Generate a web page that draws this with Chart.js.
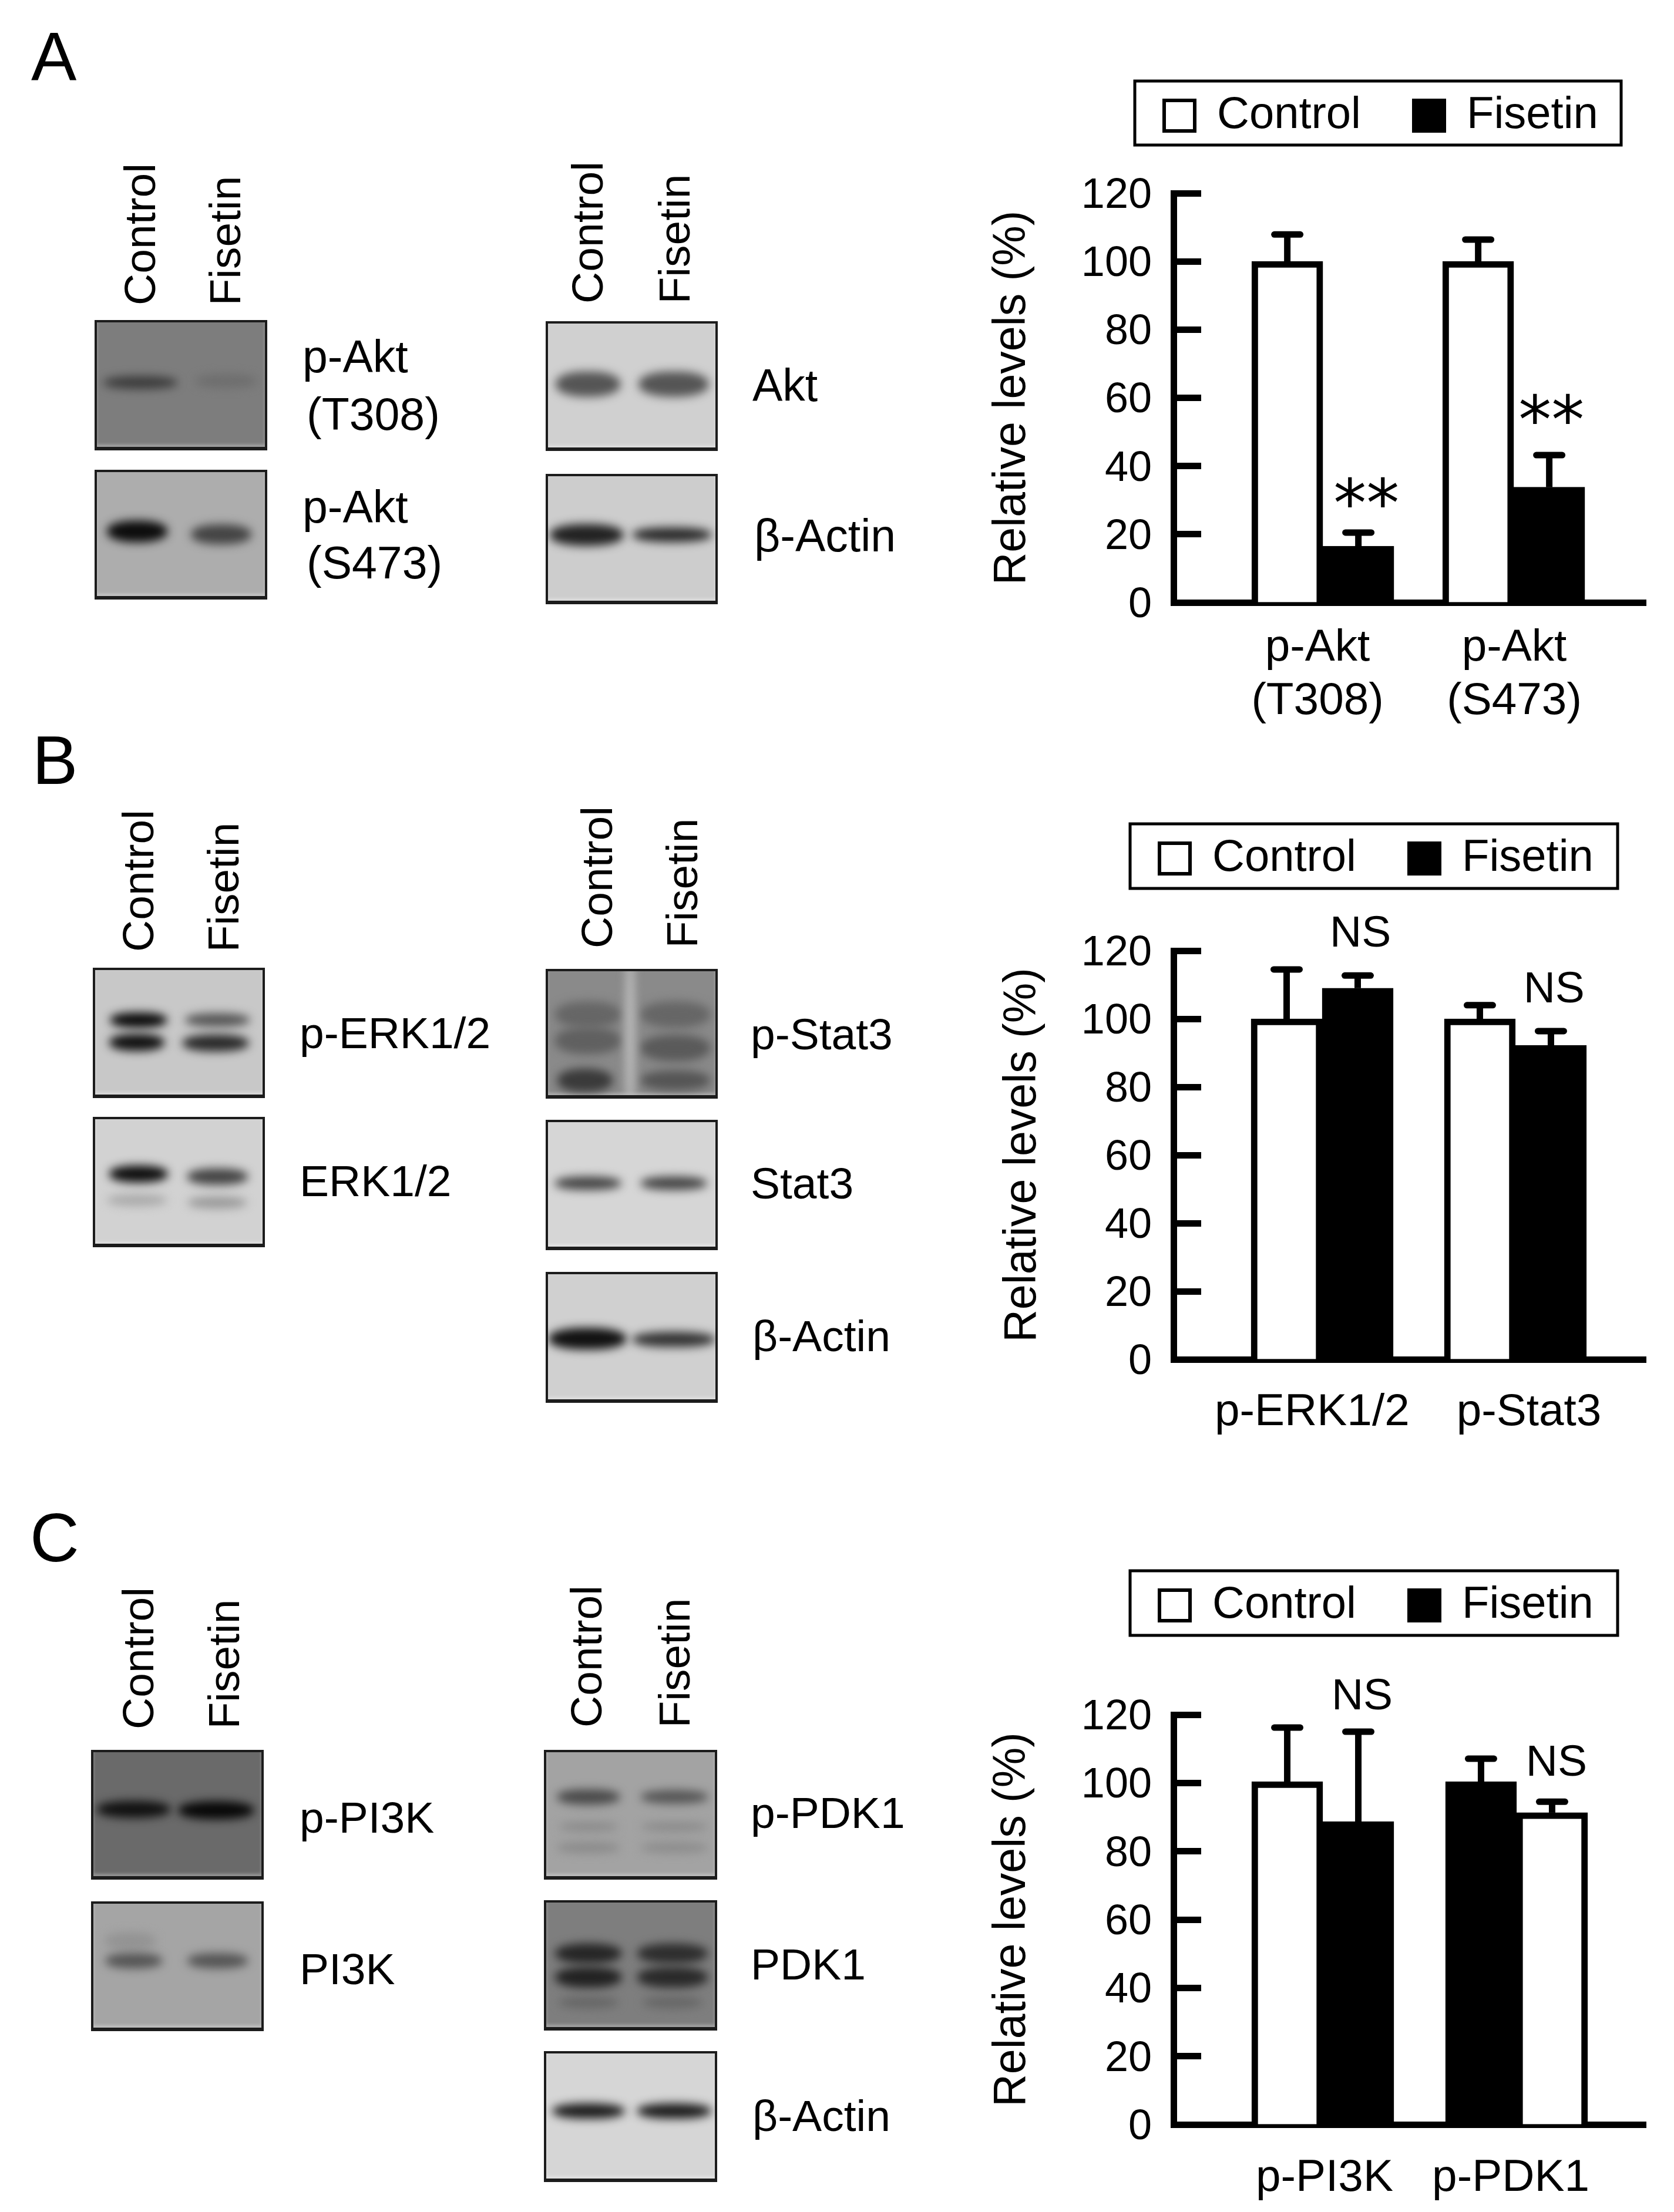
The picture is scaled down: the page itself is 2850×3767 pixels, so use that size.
<!DOCTYPE html>
<html>
<head>
<meta charset="utf-8">
<title>Fisetin blots and relative levels</title>
<script src="https://cdn.jsdelivr.net/npm/chart.js@4/dist/chart.umd.min.js"></script>
<style>
    html, body { margin: 0; padding: 0; background: #fff; }
    #page { position: relative; width: 2850px; height: 3767px; overflow: hidden; background: #fff; }
    #page canvas { position: absolute; left: 1650px; }
    .txt { position: absolute; font-family: "Liberation Sans", Arial, sans-serif; color: #000; line-height: 1; white-space: nowrap; transform: translateY(-50%); }
    .rot { transform: translate(-50%, -50%) rotate(-90deg); }
    .gel { position: absolute; overflow: hidden; box-sizing: border-box; border: 4px solid #1c1c1c; border-bottom-width: 6px; box-shadow: inset 0 -4px 5px rgba(255,255,255,.3); }
    .band { position: absolute; border-radius: 45%; filter: blur(8px); transform: translate(-50%, -50%); }
</style>
</head>
<body>
<div id="page">
    <canvas id="chartA" width="1200" height="1150" style="top:100px"></canvas>
    <canvas id="chartB" width="1200" height="1150" style="top:1380px"></canvas>
    <canvas id="chartC" width="1200" height="1127" style="top:2640px"></canvas>
</div>
<script>
/*---------------------------------------------------
  Data
---------------------------------------------------*/
var seriesNames = ["Control", "Fisetin"];
var yTickValues = [0, 20, 40, 60, 80, 100, 120];
var yTitle = "Relative levels (%)";

var aCategories = [["p-Akt", "(T308)"], ["p-Akt", "(S473)"]];
var aControl = [100, 100];
var aFisetin = [16.5, 33.8];
var aControlTop = [107.9, 106.4];
var aFisetinTop = [20.5, 43.2];
var aNotes = ["**", "**"];
var aNoteLevels = [31.7, 56.1];

var bCategories = ["p-ERK1/2", "p-Stat3"];
var bControl = [100, 100];
var bFisetin = [109, 92.2];
var bControlTop = [114.5, 104];
var bFisetinTop = [112.7, 96.4];
var bNotes = ["NS", "NS"];
var bNoteLevels = [125.5, 109.1];

var cCategories = ["p-PI3K", "p-PDK1"];
var cControl = [100.4, 100.4];
var cFisetin = [88.7, 91.3];
var cControlTop = [116.2, 107.1];
var cFisetinTop = [115, 94.5];
var cNotes = ["NS", "NS"];
var cNoteLevels = [125.8, 106.3];

/*---------------------------------------------------
  Chart defaults
---------------------------------------------------*/
var WHITE = "#ffffff";
var BLACK = "#000000";
var FONT = "'Liberation Sans', Arial, sans-serif";
var LEGEND_FONT = 76;
var LEGEND_PAD = 90;

Chart.defaults.font.family = FONT;
Chart.defaults.color = BLACK;
Chart.defaults.animation = false;

/*---------------------------------------------------
  Error bars, notes, legend frame
---------------------------------------------------*/
function panelPlugin(p) {
    return {
        id: "panelMarks",
        afterLayout: function (chart) {
            // the legend sits in its own frame, away from the plot
            var legend = chart.legend;
            legend.left = p.legendX - LEGEND_PAD;
            legend.right = chart.width + LEGEND_PAD;
            legend.top = p.legendY - LEGEND_FONT / 2 - LEGEND_PAD;
        },
        afterDatasetsDraw: function (chart) {
            var ctx = chart.ctx;
            var y = chart.scales.y;
            ctx.save();
            ctx.strokeStyle = BLACK;
            ctx.lineWidth = 11;
            [p.controlTop, p.fisetinTop].forEach(function (tops, i) {
                chart.getDatasetMeta(i).data.forEach(function (bar, j) {
                    var top = y.getPixelForValue(tops[j]);
                    ctx.lineCap = "butt";
                    ctx.beginPath();
                    ctx.moveTo(bar.x, bar.y);
                    ctx.lineTo(bar.x, top);
                    ctx.stroke();
                    ctx.lineCap = "round";
                    ctx.beginPath();
                    ctx.moveTo(bar.x - 22, top);
                    ctx.lineTo(bar.x + 22, top);
                    ctx.stroke();
                });
            });
            ctx.restore();
        },
        afterDraw: function (chart) {
            var ctx = chart.ctx;
            ctx.save();
            ctx.strokeStyle = BLACK;
            ctx.lineWidth = 5;
            ctx.strokeRect(p.frame[0], p.frame[1], p.frame[2], p.frame[3]);
            ctx.fillStyle = BLACK;
            ctx.textAlign = "center";
            ctx.textBaseline = "middle";
            p.notes.forEach(function (note, i) {
                var stars = note.indexOf("*") >= 0;
                ctx.font = (stars ? "112px 'DejaVu Sans'" : "75px " + FONT);
                var px = chart.scales.x.getPixelForValue(p.noteX[i]);
                var py = chart.scales.y.getPixelForValue(p.noteLevels[i]);
                ctx.fillText(note, px, py + (stars ? 25 : 4));
            });
            ctx.restore();
        }
    };
}

/*---------------------------------------------------
  One bar panel
---------------------------------------------------*/
function barPanel(id, p) {
    return new Chart(document.getElementById(id), {
        type: "bar",
        data: {
            datasets: [{
                label: seriesNames[0],
                data: p.control.map(function (v, i) { return { x: i + 1, y: v }; }),
                backgroundColor: p.controlFill,
                borderColor: BLACK,
                borderWidth: 11,
                barThickness: 121
            }, {
                label: seriesNames[1],
                data: p.fisetin.map(function (v, i) { return { x: i + 1, y: v }; }),
                backgroundColor: p.fisetinFill,
                borderColor: BLACK,
                borderWidth: 11,
                barThickness: 121
            }]
        },
        options: {
            responsive: false,
            layout: { padding: { top: p.plotTop - (LEGEND_FONT + LEGEND_PAD + 10), right: 48, bottom: 0, left: 0 } },
            plugins: {
                tooltip: { enabled: false },
                legend: {
                    position: "top",
                    align: "start",
                    labels: {
                        boxWidth: 52,
                        boxHeight: 52,
                        padding: LEGEND_PAD,
                        font: { size: LEGEND_FONT },
                        generateLabels: function (chart) {
                            var items = Chart.defaults.plugins.legend.labels.generateLabels(chart);
                            items.forEach(function (item) { item.lineWidth = 6; });
                            return items;
                        }
                    }
                }
            },
            scales: {
                x: {
                    type: "linear",
                    offset: false,
                    min: p.xRange[0],
                    max: p.xRange[1],
                    grid: { display: false, drawTicks: false, offset: false },
                    border: { width: 11, color: BLACK },
                    afterFit: function (scale) { scale.height = p.axisHeight; },
                    afterBuildTicks: function (scale) {
                        scale.ticks = p.labelAt.map(function (v) { return { value: v }; });
                    },
                    ticks: {
                        autoSkip: false,
                        maxRotation: 0,
                        padding: p.labelPad,
                        font: { size: 76.5, lineHeight: 1.19 },
                        callback: function (value, index) { return p.categories[index]; }
                    }
                },
                y: {
                    min: 0,
                    max: 120,
                    grid: { drawOnChartArea: false, tickLength: -47, tickWidth: 11, tickColor: BLACK },
                    border: { width: 11, color: BLACK },
                    title: {
                        display: true,
                        text: yTitle,
                        font: { size: 77 },
                        padding: { top: p.titlePad, bottom: 0 }
                    },
                    afterFit: function (scale) { scale.width = 348; },
                    afterBuildTicks: function (scale) {
                        scale.ticks = yTickValues.map(function (v) { return { value: v }; });
                    },
                    ticks: { padding: 84, labelOffset: 5, font: { size: 72 } }
                }
            }
        },
        plugins: [panelPlugin(p)]
    });
}

barPanel("chartA", {
    categories: aCategories, control: aControl, fisetin: aFisetin,
    controlTop: aControlTop, fisetinTop: aFisetinTop,
    notes: aNotes, noteLevels: aNoteLevels, noteX: [1.228, 2.197],
    controlFill: [WHITE, WHITE], fisetinFill: [BLACK, BLACK],
    xRange: [0.218, 2.692], labelAt: [0.972, 2.003],
    plotTop: 229, axisHeight: 224, labelPad: 32, titlePad: 28,
    legendX: 332, legendY: 97, frame: [282, 38, 828, 109]
});

barPanel("chartB", {
    categories: bCategories, control: bControl, fisetin: bFisetin,
    controlTop: bControlTop, fisetinTop: bFisetinTop,
    notes: bNotes, noteLevels: bNoteLevels, noteX: [1.198, 2.2],
    controlFill: [WHITE, WHITE], fisetinFill: [BLACK, BLACK],
    xRange: [0.231, 2.675], labelAt: [0.948, 2.07],
    plotTop: 239, axisHeight: 215, labelPad: 45, titlePad: 46,
    legendX: 324, legendY: 82, frame: [274, 23, 830, 110]
});

barPanel("chartC", {
    categories: cCategories, control: cControl, fisetin: cFisetin,
    controlTop: cControlTop, fisetinTop: cFisetinTop,
    notes: cNotes, noteLevels: cNoteLevels, noteX: [1.203, 2.206],
    controlFill: [WHITE, BLACK], fisetinFill: [BLACK, WHITE],
    xRange: [0.23, 2.667], labelAt: [1.009, 1.97],
    plotTop: 280, axisHeight: 149, labelPad: 46, titlePad: 28,
    legendX: 324, legendY: 94, frame: [274, 35, 830, 110]
});

/*---------------------------------------------------
  Page text and western blot panels
---------------------------------------------------*/
var page = document.getElementById("page");

function addText(text, x, y, size) {
    var el = document.createElement("span");
    el.className = "txt";
    el.textContent = text;
    el.style.left = x + "px";
    el.style.top = y + "px";
    el.style.fontSize = size + "px";
    page.appendChild(el);
}

function addLane(text, x, y) {
    var el = document.createElement("span");
    el.className = "txt rot";
    el.textContent = text;
    el.style.left = x + "px";
    el.style.top = y + "px";
    el.style.fontSize = "75px";
    page.appendChild(el);
}

[["A", 53, 97], ["B", 55, 1295], ["C", 51, 2619]].forEach(function (t) {
    addText(t[0], t[1], t[2], 116);
});

[
    ["p-Akt", 515, 607], ["(T308)", 522, 705], ["p-Akt", 515, 863], ["(S473)", 522, 958],
    ["Akt", 1281, 656], ["\u03b2-Actin", 1284, 912],
    ["p-ERK1/2", 510, 1759], ["ERK1/2", 510, 2011], ["p-Stat3", 1278, 1761], ["Stat3", 1278, 2015],
    ["\u03b2-Actin", 1281, 2275],
    ["p-PI3K", 510, 3095], ["PI3K", 510, 3353], ["p-PDK1", 1278, 3087], ["PDK1", 1278, 3345],
    ["\u03b2-Actin", 1281, 3603]
].forEach(function (t) {
    addText(t[0], t[1], t[2], t[2] < 1000 ? 77 : 75);
});

[
    [238, 399, 383, 410], [1000, 396, 1148, 407],
    [235, 1500, 380, 1511], [1016, 1494, 1161, 1504],
    [235, 2824, 381, 2834], [998, 2821, 1148, 2832]
].forEach(function (t) {
    addLane(seriesNames[0], t[0], t[1]);
    addLane(seriesNames[1], t[2], t[3]);
});

// box: left, top, right, bottom, background; bands: centre x, centre y, width, height (fractions), colour
var gels = [
    [161, 545, 455, 767, "#7d7d7d", [[.26, .484, .40, .08, "#3c3c3c"], [.77, .47, .33, .08, "#6e6e6e"]]],
    [161, 800, 455, 1021, "#adadad", [[.24, .48, .33, .13, "#0c0c0c"], [.74, .50, .33, .12, "#444"]]],
    [929, 547, 1222, 768, "#d0d0d0", [[.24, .49, .35, .15, "#555"], [.75, .49, .38, .15, "#555"]]],
    [929, 807, 1222, 1029, "#cdcdcd", [[.23, .47, .40, .13, "#222"], [.74, .47, .43, .09, "#2a2a2a"]]],

    [158, 1648, 451, 1870, "#c8c8c8", [[.26, .40, .31, .09, "#0a0a0a"], [.73, .40, .35, .08, "#555"], [.25, .58, .30, .10, "#111"], [.72, .585, .36, .10, "#2a2a2a"]]],
    [158, 1902, 451, 2124, "#d2d2d2", [[.26, .44, .32, .10, "#0e0e0e"], [.73, .46, .33, .10, "#444"], [.25, .65, .32, .07, "#aaa"], [.73, .67, .32, .07, "#999"]]],
    [929, 1650, 1222, 1871, "#8a8a8a", [[.24, .35, .36, .16, "#666"], [.24, .56, .36, .16, "#606060"], [.22, .88, .30, .14, "#3a3a3a"], [.76, .35, .38, .16, "#666"], [.76, .62, .38, .16, "#5a5a5a"], [.76, .88, .38, .12, "#555"], [.49, .5, .05, 1.1, "#c0c0c0"]]],
    [929, 1907, 1222, 2129, "#d6d6d6", [[.24, .49, .36, .08, "#444"], [.75, .49, .36, .08, "#444"]]],
    [929, 2166, 1222, 2389, "#d0d0d0", [[.235, .515, .42, .13, "#111"], [.75, .52, .45, .09, "#333"]]],

    [155, 2980, 449, 3201, "#6a6a6a", [[.24, .46, .40, .10, "#111"], [.73, .47, .41, .11, "#080808"]]],
    [155, 3238, 449, 3459, "#a5a5a5", [[.22, .30, .28, .10, "#939393"], [.24, .46, .31, .09, "#555"], [.74, .46, .33, .09, "#555"]]],
    [926, 2980, 1221, 3201, "#a3a3a3", [[.25, .36, .34, .09, "#4a4a4a"], [.76, .36, .36, .08, "#555"], [.25, .60, .32, .05, "#888"], [.76, .60, .36, .05, "#888"], [.25, .77, .34, .06, "#8a8a8a"], [.76, .77, .36, .06, "#8c8c8c"]]],
    [926, 3236, 1221, 3458, "#7e7e7e", [[.25, .41, .36, .12, "#262626"], [.75, .41, .38, .12, "#2e2e2e"], [.25, .60, .36, .12, "#222"], [.75, .60, .38, .12, "#2a2a2a"], [.25, .80, .32, .07, "#666"], [.75, .80, .32, .07, "#666"]]],
    [926, 3493, 1221, 3716, "#d6d6d6", [[.25, .46, .39, .09, "#1c1c1c"], [.76, .46, .40, .09, "#1c1c1c"]]]
];

gels.forEach(function (g) {
    var box = document.createElement("div");
    box.className = "gel";
    box.style.left = g[0] + "px";
    box.style.top = g[1] + "px";
    box.style.width = (g[2] - g[0]) + "px";
    box.style.height = (g[3] - g[1]) + "px";
    box.style.background = g[4];
    g[5].forEach(function (b) {
        var band = document.createElement("div");
        band.className = "band";
        band.style.left = (b[0] * 100) + "%";
        band.style.top = (b[1] * 100) + "%";
        // the blur eats into the band, so start it a little larger
        band.style.width = (b[2] * 110) + "%";
        band.style.height = (b[3] * 135) + "%";
        band.style.background = b[4];
        box.appendChild(band);
    });
    page.appendChild(box);
});
</script>
</body>
</html>
